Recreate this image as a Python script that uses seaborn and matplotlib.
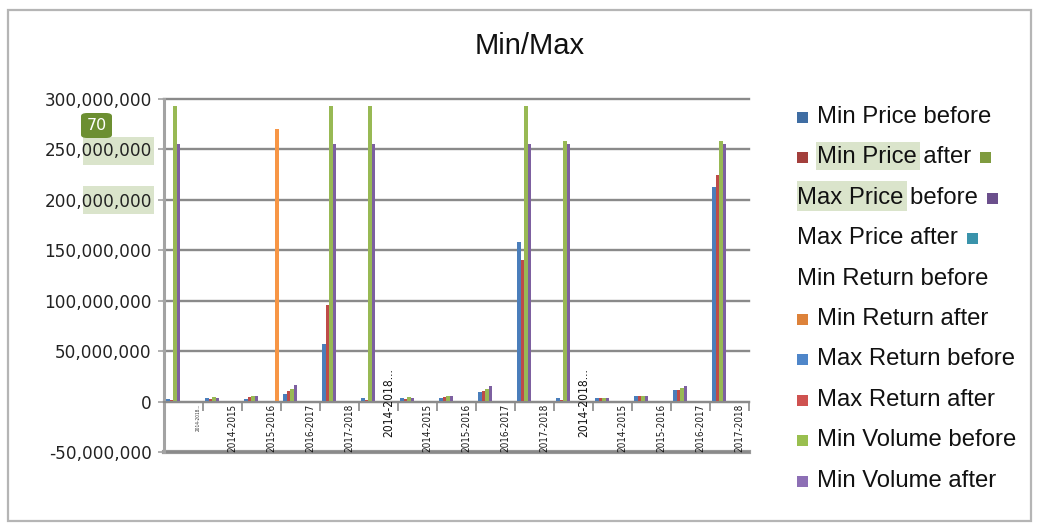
import numpy as np
import pandas as pd
import matplotlib
matplotlib.use("Agg")
import matplotlib.pyplot as plt
from matplotlib.patches import Rectangle, FancyBboxPatch
from matplotlib.ticker import FuncFormatter
from matplotlib import font_manager
import seaborn as sns

# ---- data -------------------------------------------------------------
periods = ["2014-2018...", "2014-2015", "2015-2016", "2016-2017", "2017-2018"] * 3

series_names = [
    "Min Price before", "Min Price after", "Max Price before", "Max Price after",
    "Min Return before", "Min Return after", "Max Return before", "Max Return after",
    "Min Volume before", "Min Volume after",
]

M = 1_000_000
min_price_before = [3, 3.3, 2.7, 7.7, 57, 4, 4, 4, 9.3, 158, 3.3, 4, 6, 11, 213]
min_price_after = [2, 2.7, 4.3, 10.3, 96, 2, 3, 5, 10, 140, 2, 4, 6, 11.5, 225]
max_price_before = [293, 4.3, 6, 12.7, 293, 293, 5, 6, 12.7, 293, 258, 4, 6, 13, 258]
max_price_after = [255, 3.3, 6, 16.7, 255, 255, 4, 6, 15, 255, 255, 4, 6, 15, 255]
min_return_before = [0] * 15
min_return_after = [0, 0, 270, 0, 0, 0, 0, 0, 0, 0, 0, 0, 0, 0, 0]
max_return_before = [0] * 15
max_return_after = [0] * 15
min_volume_before = [0] * 15
min_volume_after = [0] * 15

series_values = [
    min_price_before, min_price_after, max_price_before, max_price_after,
    min_return_before, min_return_after, max_return_before, max_return_after,
    min_volume_before, min_volume_after,
]

bar_colors = ["#4a7ebb", "#be4b48", "#98b954", "#7d60a0", "#46aac5",
              "#f79646", "#5b8fd6", "#e0605c", "#a8c764", "#9478bd"]
key_colors = ["#3f6da3", "#a33f3c", "#7f9b3f", "#6b4f8c", "#3a93ab",
              "#dd823a", "#4f86c9", "#cf5250", "#99bf4f", "#8d6fb5"]

# long table for seaborn
rows = []
for name, vals in zip(series_names, series_values):
    for i, v in enumerate(vals):
        rows.append({"slot": i, "series": name, "value": v * M})
df = pd.DataFrame(rows)

# the return series sits at the far end of each cluster
plot_order = [n for n in series_names if n != "Min Return after"] + ["Min Return after"]
palette = dict(zip(series_names, bar_colors))

# ---- figure -----------------------------------------------------------
W, H = 1039, 527
plt.rcParams["font.family"] = ["DejaVu Sans"]
fig = plt.figure(figsize=(W / 100, H / 100), dpi=100)
fig.patch.set_facecolor("white")


def fx(x):
    return x / W


def fy(y):
    return 1 - y / H


ax = fig.add_axes([fx(164), fy(452), (749 - 164) / W, (452 - 99) / H])

sns.barplot(data=df, x="slot", y="value", hue="series", hue_order=plot_order,
            palette=palette, width=0.89, gap=0, saturation=1, dodge=True,
            errorbar=None, legend=False, linewidth=0, ax=ax)

ax.set_xlim(-0.5, 14.5)
ax.set_ylim(-50 * M, 300 * M)
ax.set_xlabel("")
ax.set_ylabel("")
ax.set_axisbelow(True)

# axes frame
grid_c = "#8a8a8a"
for s in ("top", "right"):
    ax.spines[s].set_visible(False)
ax.spines["left"].set_color("#a3a3a3")
ax.spines["left"].set_linewidth(2.2)
ax.spines["bottom"].set_position(("data", 0))
ax.spines["bottom"].set_color(grid_c)
ax.spines["bottom"].set_linewidth(1.5)

ax.set_yticks(np.arange(-50 * M, 300 * M + 1, 50 * M))
ax.yaxis.set_major_formatter(FuncFormatter(lambda v, p: f"{v:,.0f}"))
ax.tick_params(axis="y", length=4.5, width=1.2, color="#a3a3a3", pad=4.3,
               labelsize=12.2, labelcolor="#222222")
ax.yaxis.grid(True, color=grid_c, linewidth=1.7)
for gl in ax.get_ygridlines():
    gl.set_clip_on(False)
ax.axhline(-50 * M, color="#9c9c9c", linewidth=3, clip_on=False, zorder=0.5)

ax.set_xticks(np.arange(-0.5, 15, 1))
ax.set_xticklabels([])
ax.tick_params(axis="x", length=6.5, width=1.2, color=grid_c, direction="out")

# category labels
avail = {f.name for f in font_manager.fontManager.ttflist}
if "Liberation Sans Narrow" in avail:
    cat_font = dict(family=["Liberation Sans Narrow", "DejaVu Sans"])
else:
    cat_font = dict(family=["DejaVu Sans"], stretch="condensed")

for i, lab in enumerate(periods):
    if i == 0:
        ax.text(i + 0.38, -2 * M, lab, rotation=90, ha="center", va="top",
                fontsize=3.4, color="#333333", **cat_font)
    elif lab.endswith("..."):
        ax.text(i + 0.27, -1 * M, lab, rotation=90, ha="center", va="center",
                fontsize=8.6, color="#111111", **cat_font)
    else:
        ax.text(i + 0.25, -2 * M, lab, rotation=90, ha="center", va="top",
                fontsize=7.1, color="#1a1a1a", **cat_font)

# highlight boxes behind the y labels
hl = "#dae4cb"
for (x0, y0, x1, y1) in [(83, 137, 154, 165), (83, 186, 154, 214)]:
    fig.patches.append(Rectangle((fx(x0), fy(y1)), (x1 - x0) / W, (y1 - y0) / H,
                                 transform=fig.transFigure, facecolor=hl,
                                 edgecolor="none", zorder=-1))
fig.patches.append(FancyBboxPatch((fx(81), fy(138)), 31 / W, 25 / H,
                                  boxstyle="round,pad=0,rounding_size=0.006",
                                  transform=fig.transFigure, facecolor="#6c8f31",
                                  edgecolor="none", zorder=2))
fig.text(fx(96.5), fy(126), "70", ha="center", va="center", color="white",
         fontsize=11.5, zorder=3)

# title
fig.text(fx(530), fy(46), "Min/Max", ha="center", va="center",
         fontsize=21, family=["Liberation Sans", "DejaVu Sans"], color="#111111")

# ---- key --------------------------------------------------------------
leg_font = dict(family=["Liberation Sans", "DejaVu Sans"], fontsize=17.2, color="#111111")
for (x0, y0, x1, y1) in [(816, 142, 920, 170), (797, 181, 907, 211)]:
    fig.patches.append(Rectangle((fx(x0), fy(y1)), (x1 - x0) / W, (y1 - y0) / H,
                                 transform=fig.transFigure, facecolor=hl,
                                 edgecolor="none", zorder=-1))

fig.canvas.draw()
renderer = fig.canvas.get_renderer()
shifted = {2, 3, 4}
row_y = [115 + 40.4 * i for i in range(len(series_names))]
msz = 11


def key_marker(x, base, color):
    fig.patches.append(Rectangle((fx(x), fy(base)), msz / W, msz / H,
                                 transform=fig.transFigure, facecolor=color,
                                 edgecolor="none", zorder=3))


for i, name in enumerate(series_names):
    base = row_y[i] + 8
    if i in shifted:
        tx = 797
    else:
        key_marker(797, base, key_colors[i])
        tx = 817
    t = fig.text(fx(tx), fy(base), name, ha="left", va="baseline", **leg_font)
    bb = t.get_window_extent(renderer)
    if i + 1 in shifted:
        key_marker(bb.x1 + 9, base, key_colors[i + 1])

# outer frame
fig.patches.append(Rectangle((fx(8), fy(521)), (1031 - 8) / W, (521 - 10) / H,
                             transform=fig.transFigure, facecolor="none",
                             edgecolor="#b5b5b5", linewidth=1.6, zorder=5))

fig.savefig("out.png", dpi=100, facecolor="white")
